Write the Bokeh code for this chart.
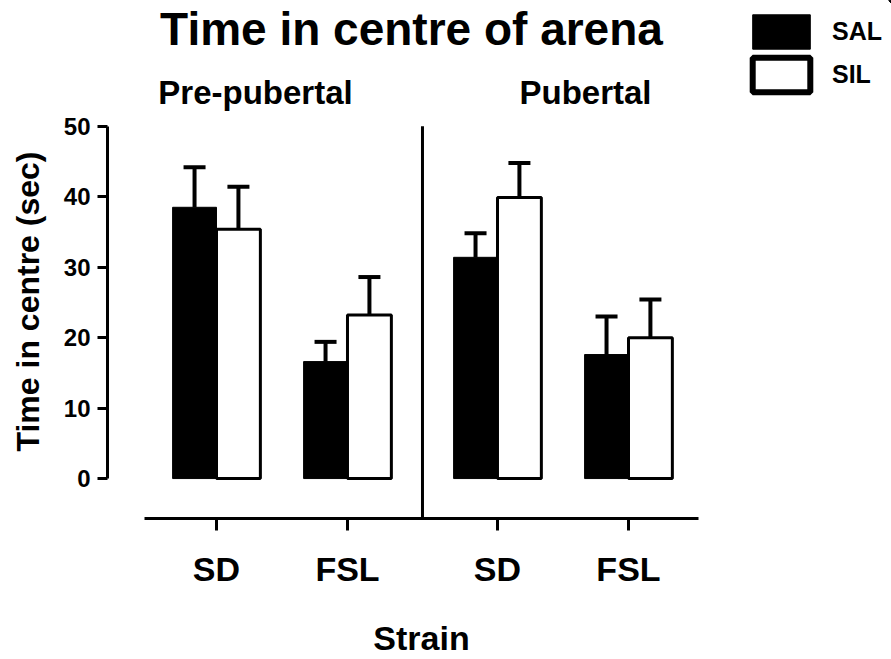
import math
from bokeh.plotting import figure
from bokeh.layouts import row
from bokeh.models import (Range1d, FixedTicker, Whisker, TeeHead, ColumnDataSource,
                          Legend, LegendItem, Label)
from bokeh.embed import file_html
from bokeh.resources import INLINE

# ---- data ----
phases = ["Pre-pubertal", "Pubertal"]
strains = ["SD", "FSL"]
treatments = ["SAL", "SIL"]
groups_phase = [0, 0, 1, 1]
groups_strain = [0, 1, 0, 1]
sal_mean = [38.5, 16.6, 31.4, 17.6]
sal_sem = [5.7, 2.8, 3.4, 5.4]
sil_mean = [35.4, 23.2, 39.9, 20.0]
sil_sem = [6.0, 5.4, 4.9, 5.4]
y_ticks = [0, 10, 20, 30, 40, 50]

# ---- layout constants ----
PHASE_STEP = 2.145
BAR_W = 0.335
FONT = "Liberation Sans"
H = 659
FRAME_H = 519   # frames of the row are aligned: top 0, bottom at the x axis


def blank(width):
    # ranges far from the data: the strips show only annotations
    f = figure(width=width, height=H, output_backend="svg", toolbar_location=None,
               x_range=Range1d(-101, -100), y_range=Range1d(-101, -100),
               min_border_left=0, min_border_right=0, min_border_top=0,
               min_border_bottom=0)
    f.axis.visible = False
    f.grid.visible = False
    f.outline_line_color = None
    return f


centers = [ph * PHASE_STEP + st for ph, st in zip(groups_phase, groups_strain)]
x_sal = [c - BAR_W / 2 for c in centers]
x_sil = [c + BAR_W / 2 for c in centers]

# ---- left strip: y axis title ----
left = blank(50)
left.add_layout(Label(x=27, y=FRAME_H - 302, x_units="screen", y_units="screen",
                      text="Time in centre (sec)", angle=math.pi / 2,
                      text_align="center", text_baseline="middle", text_font=FONT,
                      text_font_style="bold", text_font_size="32px", text_color="black"))

# ---- main plot ----
p = figure(width=695, height=H, output_backend="svg", toolbar_location=None,
           x_range=Range1d(-0.832, 3.962), y_range=Range1d(-5.67, 67.85),
           min_border_left=57, min_border_right=10, min_border_top=0,
           min_border_bottom=140)
p.outline_line_color = None
p.grid.visible = False

src_sal = ColumnDataSource(dict(x=x_sal, top=sal_mean,
                                upper=[m + s for m, s in zip(sal_mean, sal_sem)]))
src_sil = ColumnDataSource(dict(x=x_sil, top=sil_mean,
                                upper=[m + s for m, s in zip(sil_mean, sil_sem)]))

p.vbar(x="x", top="top", bottom=0, width=BAR_W, source=src_sal,
       fill_color="black", line_color="black", line_width=1)
p.vbar(x="x", top="top", bottom=0, width=BAR_W, source=src_sil,
       fill_color="white", line_color="black", line_width=3)

for src in (src_sal, src_sil):
    p.add_layout(Whisker(base="x", lower="top", upper="upper", source=src,
                         dimension="height", line_width=4, line_color="black",
                         upper_head=TeeHead(size=22, line_width=4, line_color="black"),
                         lower_head=None))

# divider between phases
div_x = (centers[1] + centers[2]) / 2
p.segment(x0=[div_x], y0=[p.y_range.start], x1=[div_x], y1=[y_ticks[-1]],
          line_color="black", line_width=3)

ya = p.yaxis[0]
ya.ticker = FixedTicker(ticks=y_ticks)
ya.bounds = (y_ticks[0], y_ticks[-1])
ya.axis_line_width = 3
ya.major_tick_line_width = 3
ya.major_tick_out = 10
ya.major_tick_in = 0
ya.minor_tick_line_color = None
ya.major_label_standoff = 7
ya.major_label_text_font = FONT
ya.major_label_text_font_style = "bold"
ya.major_label_text_font_size = "24px"
ya.major_label_text_color = "black"

xa = p.xaxis[0]
xa.ticker = FixedTicker(ticks=centers)
xa.major_label_overrides = {c: strains[s] for c, s in zip(centers, groups_strain)}
xa.bounds = (-0.55, 3.68)
xa.axis_line_width = 3
xa.major_tick_line_width = 3
xa.major_tick_out = 12
xa.major_tick_in = 0
xa.minor_tick_line_color = None
xa.major_label_standoff = 19
xa.major_label_text_font = FONT
xa.major_label_text_font_style = "bold"
xa.major_label_text_font_size = "34px"
xa.major_label_text_color = "black"
xa.axis_label = "Strain"
xa.axis_label_text_font = FONT
xa.axis_label_text_font_style = "bold"
xa.axis_label_text_font_size = "34px"
xa.axis_label_text_color = "black"
xa.axis_label_standoff = 28

# titles (screen units from frame bottom-left; frame bottom is the x axis)
p.add_layout(Label(x=304, y=490, x_units="screen", y_units="screen",
                   text="Time in centre of arena", text_align="center",
                   text_baseline="alphabetic", text_font=FONT,
                   text_font_style="bold", text_font_size="46px", text_color="black"))
for txt, sx in zip(phases, [148, 478]):
    p.add_layout(Label(x=sx, y=426, x_units="screen", y_units="screen",
                       text=txt, text_align="center", text_baseline="alphabetic",
                       text_font=FONT, text_font_style="bold", text_font_size="33px",
                       text_color="black"))

# ---- right strip: legend (its renderers hold the series, out of this strip's view) ----
leg = blank(146)
r_sal = leg.vbar(x="x", top="top", width=BAR_W, source=src_sal,
                 fill_color="black", line_color="black", line_width=1)
r_sil = leg.vbar(x="x", top="top", width=BAR_W, source=src_sil,
                 fill_color="white", line_color="black", line_width=6)
legend = Legend(items=[LegendItem(label=treatments[0], renderers=[r_sal]),
                       LegendItem(label=treatments[1], renderers=[r_sil])],
                location=(0, FRAME_H - 97), glyph_width=72, glyph_height=43,
                label_standoff=15, spacing=0, padding=0, margin=0,
                border_line_color=None, background_fill_alpha=0,
                label_text_font=FONT, label_text_font_style="bold",
                label_text_font_size="25px", label_text_color="black")
leg.add_layout(legend, "center")

layout = row(left, p, leg)
open("out.html", "w").write(file_html(layout, INLINE))
